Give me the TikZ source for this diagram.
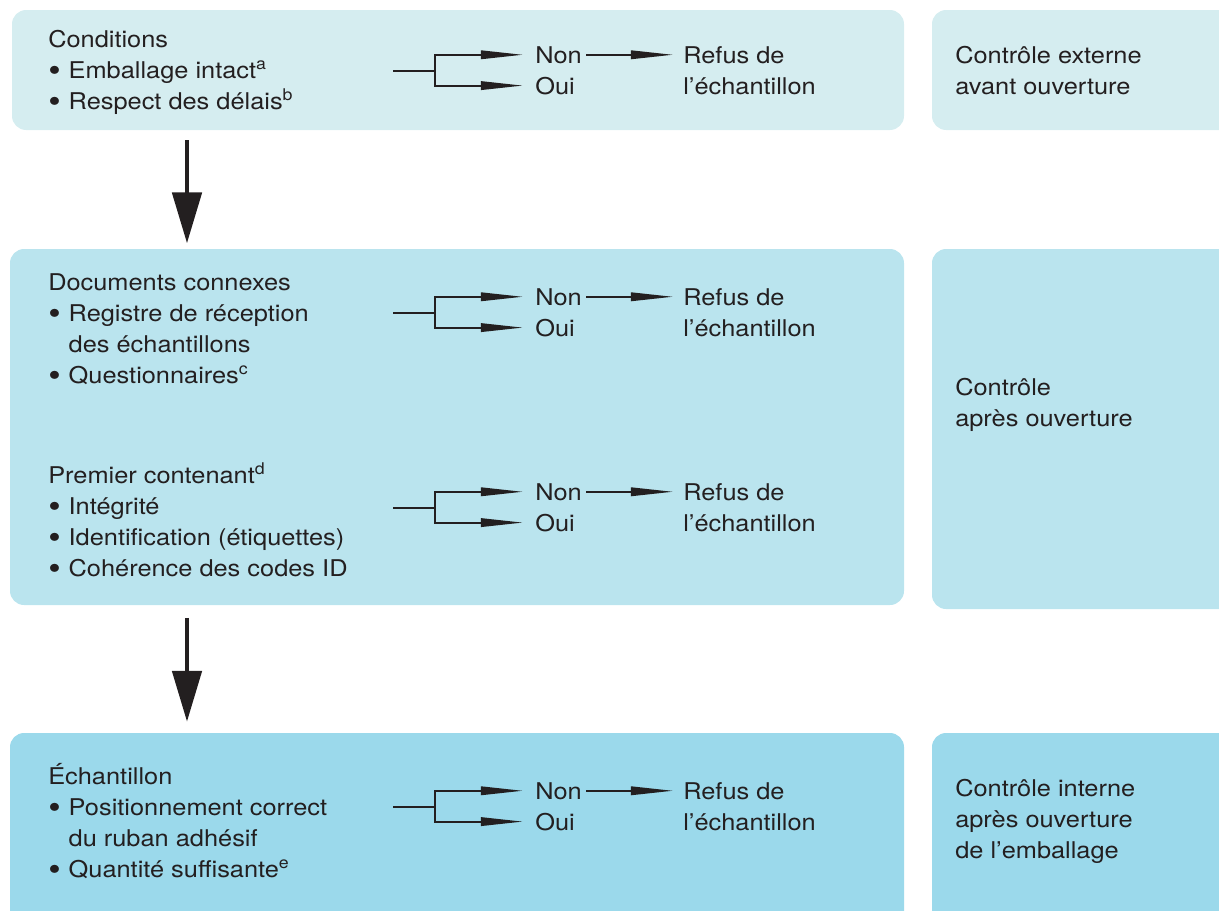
\documentclass[tikz,border=0pt]{standalone}
\usepackage{fontspec}
\setmainfont{TeX Gyre Heros}[FakeStretch=1.1]
\usetikzlibrary{arrows.meta,fit}

\definecolor{boxtop}{HTML}{D5EDF0}
\definecolor{boxmid}{HTML}{BAE4EE}
\definecolor{boxlow}{HTML}{9BD9EB}
\definecolor{ink}{HTML}{231F20}

\newcommand{\bul}{\makebox[14.5pt][l]{\raisebox{-2.2pt}{\fontsize{23}{22}\selectfont\textbullet}}}
\newcommand{\ind}{\hspace*{14.5pt}}

\begin{document}
\begin{tikzpicture}[x=0.025cm,y=-0.025cm,
  panel/.style={rounded corners=10pt, inner sep=0pt, draw=none},
  txt/.style={anchor=base west, inner sep=0pt, align=left, text=ink,
    font=\fontsize{16.4}{22}\selectfont},
  fork/.style={draw=ink, line width=1.4pt, shorten >=8.5pt,
    -{Triangle[length=30pt,width=6pt]}},
  flowdown/.style={draw=ink, line width=2.2pt,
    -{Triangle[length=36pt,width=21pt]}}]

\useasboundingbox (0,0) rectangle (1219,910);
\clip (0,0) rectangle (1219,910);

% Panels
\node[panel, fill=boxtop, fit={(12,10) (904,130)}] (condbox) {};
\node[panel, fill=boxtop, fit={(932,10) (1260,130)}] (extbox) {};
\node[panel, fill=boxmid, fit={(10,249) (904,605)}] (docbox) {};
\node[panel, fill=boxmid, fit={(932,249) (1260,609)}] (apresbox) {};
\node[panel, fill=boxlow, fit={(10,733) (904,960)}] (echbox) {};
\node[panel, fill=boxlow, fit={(932,733) (1260,960)}] (intbox) {};

% Left texts
\node[txt] (cond) at (48,109) {Conditions\\
  \bul Emballage intact\textsuperscript{a}\\
  \bul Respect des délais\textsuperscript{b}};
\node[txt] (docs) at (48,383) {Documents connexes\\
  \bul Registre de réception\\
  \ind des échantillons\\
  \bul Questionnaires\textsuperscript{c}};
\node[txt] (prem) at (48,576) {Premier contenant\textsuperscript{d}\\
  \bul Intégrité\\
  \bul Identification (étiquettes)\\
  \bul Cohérence des codes ID};
\node[txt] (ech) at (48,877) {Échantillon\\
  \bul Positionnement correct\\
  \ind du ruban adhésif\\
  \bul Quantité suffisante\textsuperscript{e}};

% Right texts
\node[txt] (ext) at (955,94) {Contrôle externe\\ avant ouverture};
\node[txt] (apres) at (955,426) {Contrôle\\ après ouverture};
\node[txt] (int) at (955,858) {Contrôle interne\\ après ouverture\\ de l’emballage};

% Decisions
\foreach \nb/\k in {63/a,305/b,500/c,799/d}{
  \node[txt] (non\k) at (535,\nb) {Non};
  \node[txt] (oui\k) at (535,\nb+31) {Oui};
  \node[txt] (refus\k) at (683,\nb+31) {Refus de\\ l’échantillon};
  \coordinate (stem\k) at (393,\nb+8);
  \coordinate (split\k) at (435,\nb+8);
  \draw[ink, line width=1.4pt] (stem\k) -- (split\k);
  \draw[fork] (split\k) |- (non\k.west);
  \draw[fork] (split\k) |- (oui\k.west);
  \draw[fork, shorten <=3pt, shorten >=7pt] (non\k.east) -- (non\k.east -| refus\k.west);
}

% Flow
\coordinate (ax) at (187,0);
\draw[flowdown, shorten <=7pt, shorten >=4pt] (condbox.south -| ax) -- (docbox.north -| ax);
\draw[flowdown, shorten <=9pt, shorten >=8pt] (docbox.south -| ax) -- (echbox.north -| ax);

\end{tikzpicture}
\end{document}
